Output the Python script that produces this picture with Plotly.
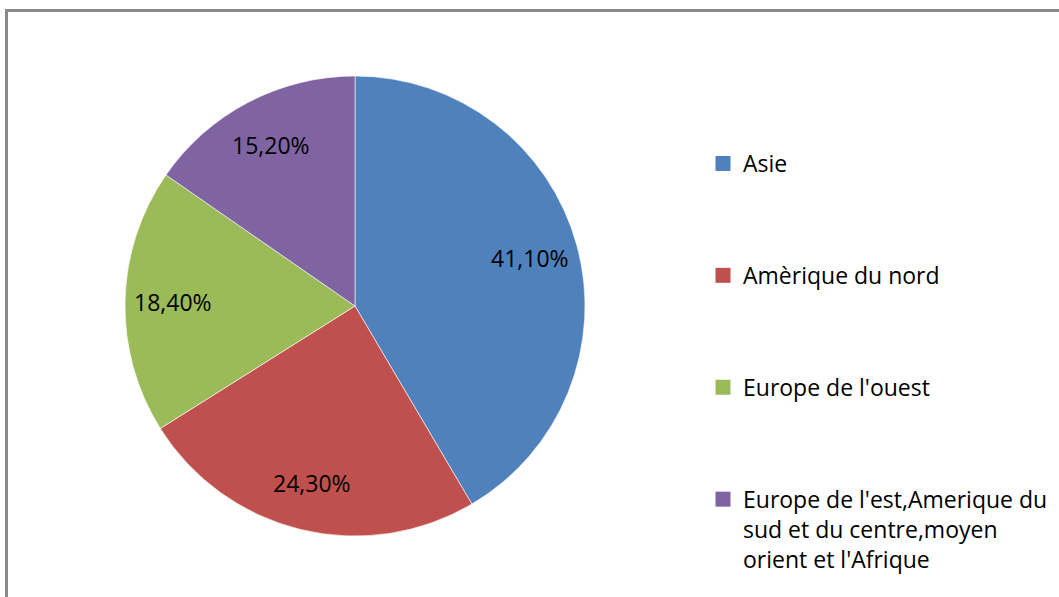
import math
import plotly.graph_objects as go

categories = ["Asie", "Amèrique du nord", "Europe de l'ouest",
              "Europe de l'est,Amerique du sud et du centre,moyen orient et l'Afrique"]
legend_labels = ["Asie", "Amèrique du nord", "Europe de l'ouest",
                 "Europe de l'est,Amerique du<br>sud et du centre,moyen<br>orient et l'Afrique"]
values = [41.1, 24.3, 18.4, 15.2]
colors = ["#4F81BD", "#C0504D", "#9BBB59", "#8064A2"]

W, H = 1059, 597
FONT = "Open Sans"
CX, CY, R = 355, 306, 230  # pie centre / radius in pixels

dom_x = [(CX - R) / W, (CX + R) / W]
dom_y = [(H - CY - R) / H, (H - CY + R) / H]

fig = go.Figure()
fig.add_trace(go.Pie(
    labels=categories, values=values, sort=False, direction="clockwise", rotation=0,
    marker=dict(colors=colors, line=dict(color="white", width=0.6)),
    textinfo="none", showlegend=False, hoverinfo="label+value",
    domain=dict(x=dom_x, y=dom_y),
))
for lab, col in zip(legend_labels, colors):
    fig.add_trace(go.Scatter(
        x=[None], y=[None], mode="markers", name=lab, legendgroup=lab,
        marker=dict(symbol="square", size=15, color=col), showlegend=True,
    ))

# data labels placed along each slice's mid-angle
annotations = []
total = sum(values)
cum = 0.0
for v in values:
    mid = (cum + v / 2) / total * 2 * math.pi
    cum += v
    px = CX + 0.79 * R * math.sin(mid)
    py = CY - 0.79 * R * math.cos(mid)
    annotations.append(dict(
        x=px / W, y=(H - py) / H, xref="paper", yref="paper",
        text=f"{v:.2f}%".replace(".", ","), showarrow=False,
        font=dict(family=FONT, size=23, color="black"),
        xanchor="center", yanchor="middle",
    ))

fig.update_layout(
    width=W, height=H, margin=dict(l=0, r=0, t=0, b=0),
    paper_bgcolor="white", plot_bgcolor="white", separators=", ",
    xaxis=dict(visible=False), yaxis=dict(visible=False),
    annotations=annotations,
    legend=dict(x=703 / W, y=(H - 142) / H, xanchor="left", yanchor="top",
                font=dict(family=FONT, size=23, color="black"),
                tracegroupgap=79, valign="top", itemwidth=30,
                bgcolor="rgba(0,0,0,0)"),
    shapes=[dict(type="rect", xref="paper", yref="paper",
                 x0=6.5 / W, x1=1.05, y0=-0.05, y1=(H - 10.5) / H,
                 line=dict(color="#898989", width=3), layer="above")],
)
fig.write_html("out.html", config={"displayModeBar": False},
               post_script="document.body.style.margin='0';")
